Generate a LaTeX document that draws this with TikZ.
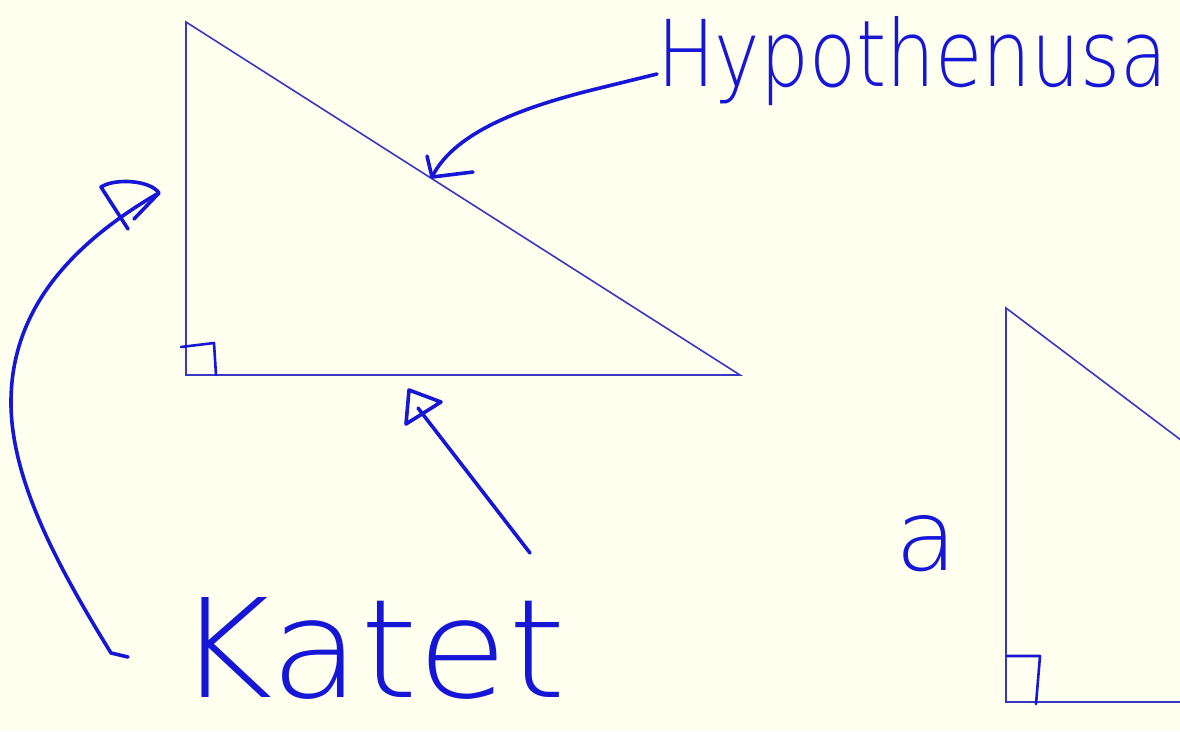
\documentclass[tikz,border=0pt]{standalone}
\usepackage{fontspec}
\usepackage{graphicx}
\newfontfamily\hand{DejaVu Sans ExtraLight}
\definecolor{paper}{RGB}{255,255,240}
\definecolor{ink}{RGB}{22,22,215}
\definecolor{edge}{RGB}{55,55,195}
\begin{document}
\begin{tikzpicture}[x=1pt,y=-1pt,
  tri/.style={draw=edge,line width=1.6pt,line join=miter},
  pen/.style={draw=ink,line width=3.6pt,line cap=round,line join=round},
  handtxt/.style={text=ink,inner sep=0pt,outer sep=0pt}]
\fill[paper] (0,0) rectangle (1180,731);
\useasboundingbox (0,0) rectangle (1180,731);
\begin{scope}
\clip (0,0) rectangle (1180,731);
% triangle 1
\coordinate (A1) at (186,22);
\coordinate (B1) at (186,375);
\coordinate (C1) at (740,375);
\draw[tri] (A1) -- (B1) -- (C1) -- cycle;
\draw[pen,line width=2.6pt] (181,347) -- (214,343) -- (216,375);
% triangle 2
\coordinate (A2) at (1006,308);
\coordinate (B2) at (1006,702);
\coordinate (C2) at (1528,702);
\draw[tri] (A2) -- (B2) -- (C2) -- cycle;
\draw[pen,line width=2.6pt] (1007,656) -- (1040,656) -- (1036,704);
\end{scope}
% texts
\node[handtxt,anchor=base west] (hyp) at (657,86) {\resizebox{510pt}{70pt}{\hand Hypothenusa}};
\node[handtxt,anchor=base west] (kat) at (176,697) {\resizebox{390pt}{100pt}{\hand Katet}};
\node[handtxt,anchor=base west] (lbla) at (895,570) {\resizebox{62pt}{55pt}{\hand a}};
% hypotenuse arrow
\coordinate (h0) at (657,74);
\coordinate (h1) at (432,177);
\draw[pen] (h0) -- (600,88) .. controls (530,105) and (455,130) .. (h1);
\draw[pen] (427,156) -- (h1) -- (473,172);
% left katet arrow
\coordinate (k0) at (128,657);
\coordinate (k1) at (157,194);
\draw[pen] (k0) -- (111,653) .. controls (60,570) and (10,480) .. (11,400)
  .. controls (12,310) and (70,245) .. (k1);
\draw[pen] (128,229) -- (101,187) .. controls (115,178) and (150,180) .. (159,193) -- (134,219);
% bottom katet arrow
\coordinate (m0) at (530,553);
\coordinate (m1) at (418,408);
\draw[pen] (m0) -- (m1);
\draw[pen] (409,390) -- (441,402) -- (406,424) -- cycle;
\end{tikzpicture}
\end{document}
